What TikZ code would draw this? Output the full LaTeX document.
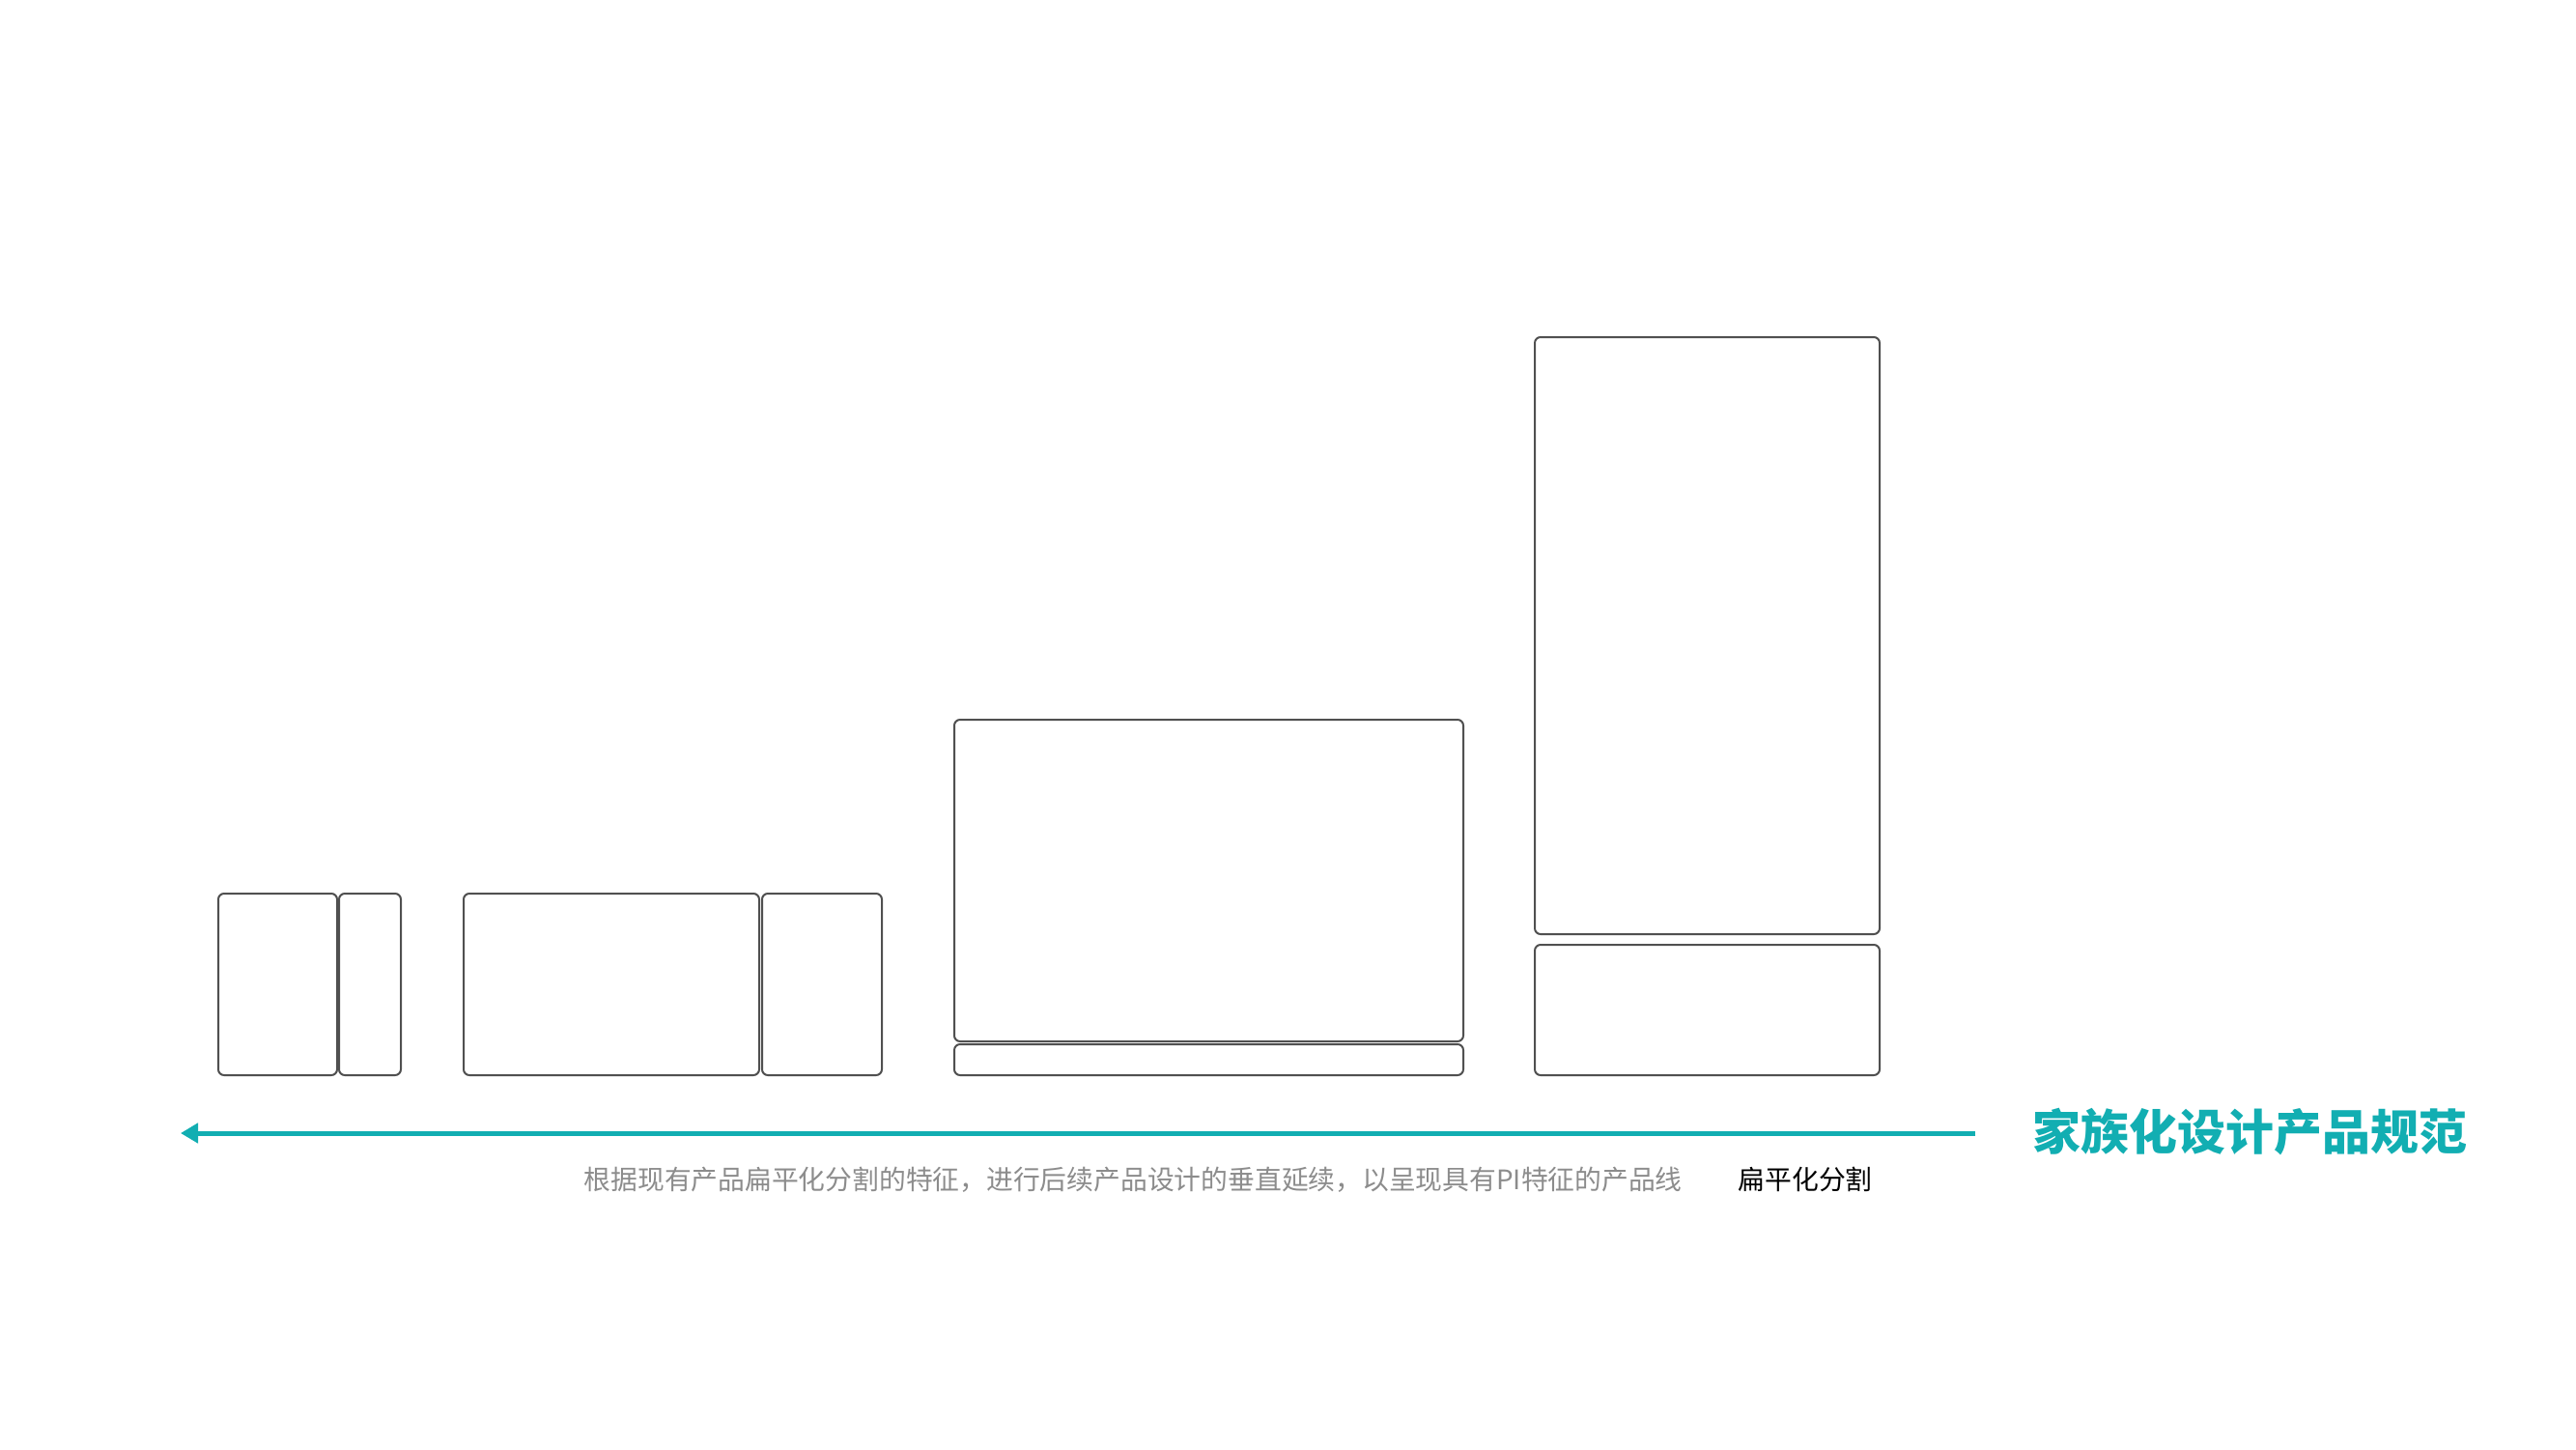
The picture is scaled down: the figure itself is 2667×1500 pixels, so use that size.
\documentclass[tikz,border=0pt]{standalone}
\usepackage{fontspec}
\usepackage{tikz}
\usetikzlibrary{arrows.meta}
\newfontfamily\cjk{Noto Sans CJK SC}
\definecolor{tealline}{RGB}{18,174,178}
\definecolor{panelgrey}{RGB}{80,80,80}
\definecolor{notegrey}{RGB}{140,140,140}

\begin{document}
\begin{tikzpicture}[x=0.01cm, y=-0.01cm]
        \tikzset{panel/.style={draw=panelgrey, line width=0.02cm, rounded corners=0.06cm}}
        \fill[white] (0,0) rectangle (2667,1500);
        \useasboundingbox (0,0) rectangle (2667,1500);

        % first product: two panels
        \draw[panel] (226,925) rectangle (349,1113);
        \draw[panel] (351,925) rectangle (415,1113);
        % second product
        \draw[panel] (480,925) rectangle (786,1113);
        \draw[panel] (789,925) rectangle (913,1113);
        % third product
        \draw[panel] (988,745) rectangle (1515,1078);
        \draw[panel] (988,1081) rectangle (1515,1113);
        % fourth product
        \draw[panel] (1589,349) rectangle (1946,967);
        \draw[panel] (1589,978) rectangle (1946,1113);

        \coordinate (arrowstart) at (2045,1173);
        \coordinate (arrowend) at (187,1173);
        \draw[tealline, line width=0.05cm, -{Triangle[length=0.18cm, width=0.2cm]}] (arrowstart) -- (arrowend);

        \node[anchor=west, inner sep=0, text=tealline] (title) at (2104,1172)
            {\cjk\bfseries\fontsize{14.2pt}{16pt}\selectfont 家族化设计产品规范};
        \node[anchor=west, inner sep=0, text=notegrey] (note) at (604,1221)
            {\cjk\fontsize{7.9pt}{9pt}\selectfont 根据现有产品扁平化分割的特征，进行后续产品设计的垂直延续，以呈现具有PI特征的产品线};
        \node[anchor=west, inner sep=0, text=black] (tag) at (1799,1221)
            {\cjk\fontsize{7.9pt}{9pt}\selectfont 扁平化分割};
    \end{tikzpicture}
\end{document}
